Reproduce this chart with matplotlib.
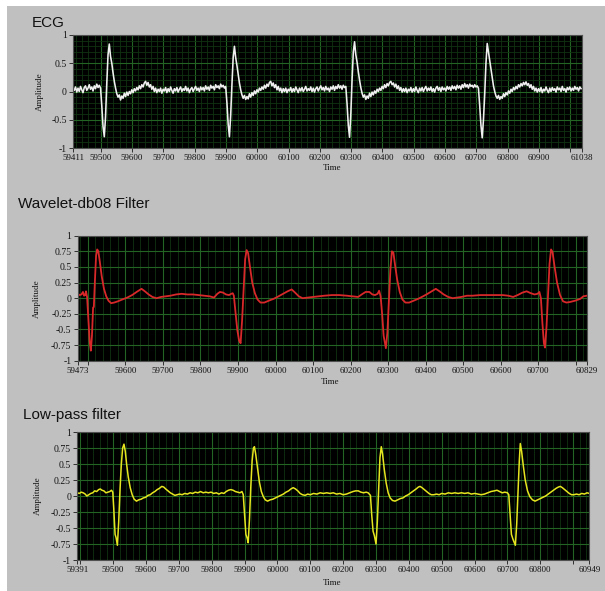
import numpy as np
import matplotlib.pyplot as plt
from matplotlib.patches import Rectangle
from matplotlib.ticker import MultipleLocator, FixedLocator

# ---------------- data ----------------
# raw ECG, sampled every 4 time units starting at 59411
ecg_start = 59411
ecg_step = 4
ecg_v = [
    0.05, 0.02, 0.08, -0.01, 0.06, 0.0, 0.09, 0.03, -0.02, 0.07,
    0.1, 0.02, 0.06, 0.12, 0.04, 0.08, 0.01, 0.1, 0.05, 0.13,
    0.07, 0.11, 0.06, -0.25, -0.62, -0.8, -0.45, 0.15, 0.65, 0.84,
    0.62, 0.5, 0.33, 0.18, 0.06, -0.04, -0.1, -0.06, -0.15, -0.08,
    -0.12, -0.03, -0.09, -0.01, -0.07, 0.0, -0.04, 0.03, -0.02, 0.05,
    0.01, 0.07, 0.03, 0.1, 0.05, 0.12, 0.08, 0.15, 0.18, 0.11,
    0.16, 0.08, 0.12, 0.04, 0.09, 0.0, 0.06, -0.02, 0.04, 0.0,
    0.06, -0.03, 0.04, 0.01, 0.07, -0.02, 0.05, 0.0, 0.08, 0.02,
    -0.03, 0.05, 0.01, 0.07, -0.01, 0.04, 0.08, 0.0, 0.05, 0.02,
    0.09, 0.01, 0.06, -0.02, 0.04, 0.07, 0.0, 0.05, 0.09, 0.02,
    0.06, 0.0, 0.08, 0.03, 0.07, 0.01, 0.1, 0.04, 0.08, 0.02,
    0.11, 0.06, 0.09, 0.03, 0.12, 0.07, 0.1, 0.05, 0.13, 0.08,
    0.11, 0.06, 0.09, -0.2, -0.58, -0.8, -0.42, 0.12, 0.6, 0.8,
    0.6, 0.46, 0.3, 0.15, 0.03, -0.06, -0.12, -0.07, -0.14, -0.09,
    -0.13, -0.04, -0.1, -0.02, -0.07, 0.01, -0.04, 0.03, -0.01, 0.06,
    0.02, 0.08, 0.04, 0.11, 0.06, 0.13, 0.09, 0.16, 0.18, 0.1,
    0.15, 0.07, 0.12, 0.03, 0.09, 0.01, 0.06, -0.02, 0.05, 0.0,
    0.06, -0.02, 0.04, 0.01, 0.07, -0.01, 0.05, 0.0, 0.08, 0.03,
    -0.02, 0.06, 0.01, 0.07, 0.0, 0.04, 0.09, 0.01, 0.05, 0.02,
    0.08, 0.0, 0.06, -0.01, 0.05, 0.08, 0.01, 0.06, 0.1, 0.03,
    0.07, 0.01, 0.09, 0.03, 0.06, 0.0, 0.08, 0.04, 0.1, 0.02,
    0.09, 0.05, 0.12, 0.06, 0.1, 0.04, 0.11, 0.07, 0.09, -0.22,
    -0.6, -0.81, -0.4, 0.2, 0.7, 0.88, 0.65, 0.52, 0.35, 0.2,
    0.07, -0.03, -0.1, -0.06, -0.14, -0.08, -0.12, -0.03, -0.09, -0.01,
    -0.06, 0.01, -0.03, 0.04, 0.0, 0.06, 0.02, 0.09, 0.05, 0.12,
    0.07, 0.14, 0.1, 0.16, 0.18, 0.12, 0.15, 0.08, 0.13, 0.05,
    0.1, 0.02, 0.07, -0.01, 0.05, 0.0, 0.06, -0.02, 0.04, 0.01,
    0.07, -0.01, 0.05, 0.0, 0.08, 0.02, -0.02, 0.06, 0.01, 0.07,
    0.0, 0.05, 0.09, 0.01, 0.06, 0.02, 0.08, 0.0, 0.05, -0.01,
    0.06, 0.09, 0.02, 0.07, 0.0, 0.08, 0.03, 0.06, 0.01, 0.09,
    0.04, 0.08, 0.02, 0.1, 0.05, 0.09, 0.03, 0.11, 0.06, 0.1,
    0.04, 0.12, 0.07, 0.14, 0.08, 0.12, 0.06, 0.13, 0.09, 0.11,
    0.07, 0.12, 0.08, 0.1, 0.06, -0.25, -0.6, -0.82, -0.5, -0.05,
    0.5, 0.85, 0.7, 0.55, 0.4, 0.25, 0.1, 0.0, -0.08, -0.12,
    -0.07, -0.14, -0.09, -0.12, -0.04, -0.09, -0.02, -0.06, 0.01, -0.03,
    0.04, 0.0, 0.07, 0.03, 0.09, 0.05, 0.12, 0.08, 0.14, 0.1,
    0.16, 0.12, 0.17, 0.11, 0.14, 0.07, 0.12, 0.04, 0.09, 0.01,
    0.06, -0.01, 0.05, 0.0, 0.07, -0.02, 0.04, 0.01, 0.08, 0.02,
    -0.02, 0.06, 0.0, 0.07, 0.02, 0.05, -0.01, 0.08, 0.03, 0.06,
    0.0, 0.09, 0.02, 0.05, -0.01, 0.07, 0.03, 0.08, 0.01, 0.06,
    0.02, 0.09, 0.04, 0.07, 0.01, 0.08, 0.05,
]
ecg_xticks = [59411, 59500, 59600, 59700, 59800, 59900, 60000, 60100, 60200,
              60300, 60400, 60500, 60600, 60700, 60800, 60900, 61000, 61038]
ecg_xhide = [61000]

# wavelet db08 filtered signal: (time, amplitude)
wav_pts = [
    (59473, 0.07), (59478, 0.05), (59483, 0.06), (59487, 0.1), (59490, 0.04),
    (59493, 0.05), (59495, 0.11), (59498, 0.02), (59501, -0.3), (59505, -0.7),
    (59508, -0.84), (59511, -0.6), (59514, -0.15), (59516, -0.14), (59519, 0.3),
    (59522, 0.68), (59525, 0.78), (59528, 0.75), (59532, 0.58), (59537, 0.35),
    (59543, 0.15), (59549, 0.03), (59555, -0.04), (59562, -0.08), (59570, -0.07),
    (59580, -0.05), (59592, -0.02), (59605, 0.01), (59618, 0.05), (59630, 0.1),
    (59643, 0.15), (59652, 0.11), (59662, 0.06), (59672, 0.02), (59683, 0.0),
    (59695, 0.02), (59708, 0.03), (59720, 0.04), (59735, 0.06), (59750, 0.07),
    (59765, 0.06), (59780, 0.06), (59795, 0.05), (59810, 0.04), (59825, 0.03),
    (59836, 0.01), (59845, 0.07), (59852, 0.1), (59860, 0.09), (59868, 0.06),
    (59876, 0.05), (59882, 0.07), (59886, 0.08), (59889, 0.04), (59893, -0.2),
    (59898, -0.5), (59903, -0.68), (59907, -0.72), (59911, -0.35), (59915, 0.15),
    (59919, 0.62), (59923, 0.77), (59927, 0.72), (59932, 0.5), (59938, 0.25),
    (59945, 0.08), (59952, -0.02), (59960, -0.07), (59970, -0.07), (59982, -0.04),
    (59995, -0.01), (60008, 0.03), (60020, 0.07), (60032, 0.11), (60043, 0.14),
    (60052, 0.09), (60062, 0.03), (60072, 0.0), (60085, 0.01), (60100, 0.02),
    (60115, 0.03), (60130, 0.04), (60150, 0.05), (60170, 0.05), (60190, 0.04),
    (60205, 0.03), (60220, 0.02), (60232, 0.07), (60240, 0.1), (60250, 0.1),
    (60258, 0.06), (60265, 0.05), (60272, 0.07), (60276, 0.12), (60280, 0.03),
    (60284, -0.25), (60288, -0.6), (60294, -0.8), (60298, -0.55), (60302, -0.05),
    (60306, 0.45), (60310, 0.75), (60314, 0.73), (60318, 0.55), (60324, 0.3),
    (60331, 0.1), (60338, -0.02), (60346, -0.07), (60356, -0.07), (60368, -0.04),
    (60380, -0.01), (60393, 0.03), (60405, 0.07), (60416, 0.11), (60427, 0.15),
    (60437, 0.11), (60448, 0.06), (60460, 0.02), (60472, 0.0), (60483, 0.01),
    (60495, 0.02), (60510, 0.04), (60525, 0.04), (60545, 0.05), (60565, 0.05),
    (60585, 0.05), (60605, 0.05), (60620, 0.04), (60633, 0.02), (60645, 0.05),
    (60658, 0.09), (60669, 0.11), (60680, 0.08), (60690, 0.06), (60698, 0.07),
    (60703, 0.1), (60707, 0.0), (60711, -0.4), (60715, -0.72), (60718, -0.79),
    (60722, -0.45), (60726, 0.05), (60730, 0.55), (60734, 0.78), (60738, 0.74),
    (60743, 0.52), (60750, 0.25), (60758, 0.05), (60766, -0.05), (60775, -0.07),
    (60785, -0.06), (60798, -0.04), (60812, -0.01), (60820, 0.03), (60829, 0.04),
]
wav_xticks = [59473, 59500, 59600, 59700, 59800, 59900, 60000, 60100, 60200,
              60300, 60400, 60500, 60600, 60700, 60800, 60829]
wav_xhide = [59500, 60800]

# low-pass filtered signal: (time, amplitude)
lp_pts = [
    (59391, 0.05), (59397, 0.04), (59403, 0.06), (59409, 0.05), (59415, 0.03),
    (59420, 0.0), (59426, 0.02), (59432, 0.04), (59438, 0.05), (59444, 0.08),
    (59450, 0.07), (59456, 0.1), (59461, 0.11), (59466, 0.09), (59472, 0.08),
    (59478, 0.05), (59484, 0.06), (59490, 0.07), (59495, 0.09), (59499, 0.06),
    (59502, -0.2), (59506, -0.6), (59509, -0.65), (59513, -0.77), (59517, -0.4),
    (59521, 0.1), (59525, 0.5), (59529, 0.75), (59533, 0.81), (59537, 0.7),
    (59541, 0.5), (59546, 0.3), (59552, 0.13), (59558, 0.02), (59564, -0.05),
    (59571, -0.08), (59578, -0.06), (59585, -0.05), (59592, -0.03), (59599, -0.02),
    (59606, 0.01), (59613, 0.02), (59620, 0.05), (59627, 0.07), (59634, 0.1),
    (59641, 0.12), (59648, 0.15), (59654, 0.14), (59660, 0.11), (59667, 0.08),
    (59674, 0.05), (59681, 0.03), (59688, 0.01), (59695, 0.02), (59702, 0.03),
    (59710, 0.02), (59718, 0.04), (59726, 0.03), (59734, 0.05), (59742, 0.04),
    (59750, 0.06), (59758, 0.05), (59766, 0.07), (59774, 0.05), (59782, 0.06),
    (59790, 0.05), (59798, 0.06), (59806, 0.04), (59814, 0.05), (59822, 0.03),
    (59830, 0.05), (59837, 0.04), (59844, 0.07), (59851, 0.09), (59858, 0.1),
    (59865, 0.09), (59872, 0.07), (59879, 0.06), (59886, 0.05), (59892, 0.07),
    (59896, 0.02), (59900, -0.3), (59904, -0.6), (59908, -0.66), (59911, -0.73),
    (59915, -0.35), (59919, 0.15), (59923, 0.55), (59927, 0.75), (59930, 0.77),
    (59934, 0.65), (59939, 0.45), (59945, 0.22), (59951, 0.07), (59957, -0.01),
    (59963, -0.06), (59970, -0.08), (59978, -0.06), (59986, -0.05), (59994, -0.03),
    (60002, -0.01), (60010, 0.01), (60018, 0.03), (60026, 0.06), (60034, 0.08),
    (60041, 0.11), (60048, 0.13), (60055, 0.11), (60062, 0.08), (60069, 0.04),
    (60076, 0.02), (60084, 0.01), (60092, 0.03), (60100, 0.02), (60110, 0.04),
    (60120, 0.03), (60130, 0.05), (60140, 0.04), (60150, 0.05), (60160, 0.04),
    (60170, 0.05), (60180, 0.03), (60190, 0.04), (60200, 0.02), (60210, 0.03),
    (60220, 0.05), (60230, 0.07), (60238, 0.08), (60246, 0.08), (60254, 0.06),
    (60262, 0.05), (60270, 0.06), (60276, 0.05), (60283, 0.01), (60287, -0.3),
    (60291, -0.55), (60295, -0.62), (60300, -0.75), (60304, -0.4), (60308, 0.1),
    (60312, 0.6), (60316, 0.77), (60320, 0.65), (60325, 0.42), (60331, 0.2),
    (60337, 0.05), (60343, -0.03), (60350, -0.07), (60358, -0.08), (60366, -0.06),
    (60374, -0.04), (60382, -0.03), (60390, 0.0), (60398, 0.02), (60406, 0.05),
    (60414, 0.08), (60422, 0.11), (60429, 0.14), (60434, 0.15), (60440, 0.13),
    (60447, 0.1), (60454, 0.07), (60461, 0.04), (60468, 0.02), (60476, 0.02),
    (60484, 0.03), (60492, 0.02), (60500, 0.04), (60510, 0.03), (60520, 0.05),
    (60530, 0.04), (60540, 0.05), (60550, 0.04), (60560, 0.05), (60570, 0.04),
    (60580, 0.05), (60590, 0.03), (60600, 0.04), (60610, 0.03), (60620, 0.02),
    (60630, 0.03), (60640, 0.05), (60650, 0.07), (60660, 0.08), (60668, 0.09),
    (60676, 0.07), (60684, 0.05), (60692, 0.06), (60700, 0.05), (60704, 0.02),
    (60708, -0.3), (60712, -0.6), (60717, -0.68), (60724, -0.77), (60728, -0.45),
    (60732, 0.05), (60736, 0.55), (60739, 0.82), (60743, 0.7), (60748, 0.48),
    (60754, 0.25), (60761, 0.08), (60768, -0.01), (60776, -0.06), (60784, -0.08),
    (60792, -0.06), (60800, -0.04), (60808, -0.02), (60816, 0.0), (60824, 0.03),
    (60832, 0.06), (60840, 0.09), (60848, 0.12), (60855, 0.14), (60861, 0.15),
    (60867, 0.13), (60874, 0.1), (60881, 0.07), (60888, 0.04), (60895, 0.02),
    (60902, 0.02), (60910, 0.03), (60918, 0.02), (60926, 0.04), (60934, 0.03),
    (60942, 0.05), (60949, 0.04),
]
lp_xticks = [59391, 59400, 59500, 59600, 59700, 59800, 59900, 60000, 60100,
             60200, 60300, 60400, 60500, 60600, 60700, 60800, 60900, 60949]
lp_xhide = [59400, 60900]

ecg_yticks = [-1, -0.5, 0, 0.5, 1]
filt_yticks = [-1, -0.75, -0.5, -0.25, 0, 0.25, 0.5, 0.75, 1]

titles = ['ECG', 'Wavelet-db08 Filter', 'Low-pass filter']

# ---------------- layout (pixel positions of the screenshot) ----------------
W, H = 605, 591
BG = '#c0c0c0'
MAJOR = '#236323'
MINOR = '#113311'
TICKFONT = 'Liberation Serif'


def px_box(l, r, t, b):
    return [l / W, (H - b) / H, (r - l) / W, (b - t) / H]


def style_axes(ax, xticks, xhide, yticks, y_minor):
    ax.set_facecolor('black')
    ax.set_ylim(-1, 1)
    ax.xaxis.set_major_locator(FixedLocator(xticks))
    ax.set_xticklabels(['' if t in xhide else str(t) for t in xticks])
    ax.xaxis.set_minor_locator(MultipleLocator(20))
    ax.set_yticks(yticks)
    ax.set_yticklabels(['%g' % v for v in yticks])
    if y_minor:
        ax.yaxis.set_minor_locator(MultipleLocator(y_minor))
    ax.grid(True, which='minor', color=MINOR, lw=0.6)
    ax.grid(True, which='major', color=MAJOR, lw=0.8)
    ax.set_axisbelow(True)
    ax.tick_params(which='major', direction='out', length=3, width=0.7,
                   color='#303030', labelcolor='#141414', pad=1.5)
    ax.tick_params(axis='x', which='major', labelsize=6.5)
    ax.tick_params(axis='y', which='major', labelsize=7)
    ax.tick_params(which='minor', length=0)
    for lab in ax.get_xticklabels() + ax.get_yticklabels():
        lab.set_fontfamily(TICKFONT)
    for sp in ax.spines.values():
        sp.set_color('#505050')
        sp.set_linewidth(0.8)
    ax.set_xlabel('Time', fontfamily=TICKFONT, fontsize=6.5, color='#141414')
    ax.set_ylabel('Amplitude', fontfamily=TICKFONT, fontsize=6.5, color='#141414')


fig = plt.figure(figsize=(W / 100, H / 100), dpi=100, facecolor='white')
fig.patches.append(Rectangle((7 / W, 0), 1 - 7 / W, (H - 6) / H,
                             transform=fig.transFigure, facecolor=BG,
                             edgecolor='none', zorder=-10))

ax1 = fig.add_axes(px_box(73, 582, 35, 148))
ecg_t = ecg_start + ecg_step * np.arange(len(ecg_v))
ax1.plot(ecg_t, ecg_v, color='#f0f0f0', lw=1.15)
ax1.set_xlim(ecg_xticks[0], ecg_xticks[-1])
style_axes(ax1, ecg_xticks, ecg_xhide, ecg_yticks, 0.1)
ax1.xaxis.set_label_coords(0.508, -0.14)
ax1.yaxis.set_label_coords(-0.057, 0.5)

ax2 = fig.add_axes(px_box(77.7, 586.7, 235.7, 360.7))
wt, wv = np.array(wav_pts).T
ax2.plot(wt, wv, color='#d8282a', lw=1.3)
ax2.set_xlim(wav_xticks[0], wav_xticks[-1])
style_axes(ax2, wav_xticks, wav_xhide, filt_yticks, None)
ax2.xaxis.set_label_coords(0.495, -0.14)
ax2.yaxis.set_label_coords(-0.072, 0.5)

ax3 = fig.add_axes(px_box(77.3, 589.3, 432, 560))
lt, lv = np.array(lp_pts).T
ax3.plot(lt, lv, color='#e6e620', lw=1.1)
ax3.set_xlim(lp_xticks[0], lp_xticks[-1])
style_axes(ax3, lp_xticks, lp_xhide, filt_yticks, None)
ax3.xaxis.set_label_coords(0.498, -0.15)
ax3.yaxis.set_label_coords(-0.07, 0.5)

title_pos = [(32, 27), (18, 208), (23, 419)]
for txt, (x, y) in zip(titles, title_pos):
    fig.text(x / W, (H - y) / H, txt, fontsize=11, fontfamily='Liberation Sans',
             color='#111111', va='baseline', ha='left')

fig.savefig('out.png', dpi=100, facecolor=fig.get_facecolor())
